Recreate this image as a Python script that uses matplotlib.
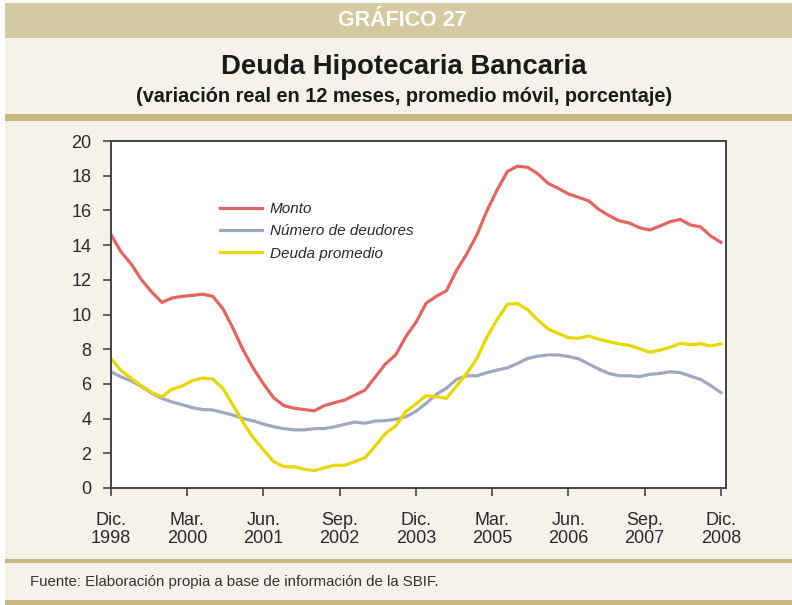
import matplotlib
matplotlib.use("Agg")
import matplotlib.pyplot as plt
from matplotlib.patches import Rectangle
from matplotlib.lines import Line2D

FONT = ['Liberation Sans', 'DejaVu Sans']
plt.rcParams['font.family'] = FONT

# ---- data (bimonthly, Dic.1998 .. Dic.2008) ----
monto = [14.6, 13.6, 12.9, 12.0, 11.3, 10.7, 10.95, 11.05, 11.1, 11.17,
         11.05, 10.35, 9.2, 7.95, 6.9, 6.0, 5.2, 4.75, 4.6, 4.52,
         4.45, 4.75, 4.92, 5.07, 5.36, 5.65, 6.4, 7.15, 7.67, 8.72,
         9.55, 10.65, 11.05, 11.37, 12.55, 13.5, 14.6, 16.0, 17.2, 18.25,
         18.55, 18.48, 18.1, 17.56, 17.27, 16.95, 16.75, 16.55, 16.05, 15.7,
         15.4, 15.27, 15.0, 14.87, 15.1, 15.35, 15.48, 15.16, 15.05, 14.52,
         14.16]
deudores = [6.7, 6.4, 6.17, 5.85, 5.46, 5.17, 4.96, 4.8, 4.63, 4.52,
            4.5, 4.35, 4.2, 4.0, 3.87, 3.68, 3.53, 3.42, 3.35, 3.35,
            3.42, 3.43, 3.53, 3.67, 3.8, 3.73, 3.86, 3.88, 3.96, 4.1,
            4.42, 4.88, 5.4, 5.75, 6.26, 6.47, 6.47, 6.65, 6.8, 6.93,
            7.18, 7.47, 7.6, 7.67, 7.67, 7.58, 7.45, 7.15, 6.85, 6.6,
            6.47, 6.47, 6.42, 6.55, 6.6, 6.7, 6.65, 6.45, 6.26, 5.9,
            5.5]
promedio = [7.47, 6.76, 6.32, 5.88, 5.51, 5.26, 5.69, 5.88, 6.19, 6.34,
            6.28, 5.75, 4.78, 3.77, 2.9, 2.2, 1.52, 1.23, 1.23, 1.08,
            1.0, 1.17, 1.31, 1.31, 1.52, 1.75, 2.42, 3.15, 3.57, 4.4,
            4.85, 5.32, 5.26, 5.17, 5.88, 6.61, 7.47, 8.72, 9.72, 10.59,
            10.64, 10.26, 9.68, 9.16, 8.91, 8.66, 8.63, 8.76, 8.57, 8.43,
            8.3, 8.22, 8.03, 7.82, 7.95, 8.11, 8.34, 8.26, 8.32, 8.18,
            8.32]
months = [2 * i for i in range(len(monto))]

tick_months = [0, 15, 30, 45, 60, 75, 90, 105, 120]
tick_labels = ["Dic.\n1998", "Mar.\n2000", "Jun.\n2001", "Sep.\n2002", "Dic.\n2003",
               "Mar.\n2005", "Jun.\n2006", "Sep.\n2007", "Dic.\n2008"]
series_names = ["Monto", "Número de deudores", "Deuda promedio"]
colors = ["#e2655f", "#a0a7c3", "#e8d800"]

W, H = 792, 605
fig = plt.figure(figsize=(W / 100, H / 100), dpi=100)
fig.patch.set_facecolor("white")

def frect(x0, y0, x1, y1, color):
    fig.patches.append(Rectangle((x0 / W, 1 - y1 / H), (x1 - x0) / W, (y1 - y0) / H,
                                 transform=fig.transFigure, color=color, zorder=-5, lw=0))

cream = "#f5f2ea"
tan = "#d5c9a1"
bar = "#c9b882"
frect(5, 3, W, H, cream)
frect(5, 3, W, 38, tan)
frect(5, 114, W, 121, bar)
frect(5, 559, W, 563, bar)
frect(5, 600, W, H, bar)

fig.text(402 / W, 1 - 21 / H, "GRÁFICO 27", color="white", fontsize=15.5, fontweight="bold",
         ha="center", va="center")
fig.text(404 / W, 1 - 67 / H, "Deuda Hipotecaria Bancaria", color="#1a1a1a", fontsize=19.8,
         fontweight="bold", ha="center", va="center")
fig.text(404 / W, 1 - 96 / H, "(variación real en 12 meses, promedio móvil, porcentaje)",
         color="#1a1a1a", fontsize=14.3, fontweight="bold", ha="center", va="center")
fig.text(30 / W, 1 - 582 / H, "Fuente: Elaboración propia a base de información de la SBIF.",
         color="#333333", fontsize=10.8, ha="left", va="center")

ax = fig.add_axes([111 / W, 1 - 488 / H, 615 / W, 347 / H])
ax.set_zorder(2)
ax.set_facecolor("white")
for m, c in zip([monto, deudores, promedio], colors):
    ax.plot(months, m, color=c, lw=2.3)

ax.set_xlim(0, 121)
ax.set_ylim(0, 20)
ax.set_yticks(range(0, 21, 2))
ax.set_xticks(tick_months)
ax.set_xticklabels(tick_labels, linespacing=1.1)
ax.tick_params(axis="both", direction="out", length=6, width=1.2, color="#444444",
               labelsize=13, labelcolor="#2a2a2a")
ax.tick_params(axis="x", pad=11)
ax.tick_params(axis="y", pad=8)
for s in ax.spines.values():
    s.set_color("#444444")
    s.set_linewidth(1.4)

handles = [Line2D([], [], color=c, lw=2.3) for c in colors]
leg = ax.legend(handles, series_names, loc="upper left",
                bbox_to_anchor=((220 - 111) / 615, (488 - 202) / 347),
                frameon=False, borderpad=0, borderaxespad=0,
                handlelength=2.75, handletextpad=0.5, labelspacing=0.55,
                prop={"family": FONT, "style": "italic", "size": 11})
for t in leg.get_texts():
    t.set_color("#2a2a2a")

fig.savefig("out.png", dpi=100, facecolor=fig.get_facecolor())
